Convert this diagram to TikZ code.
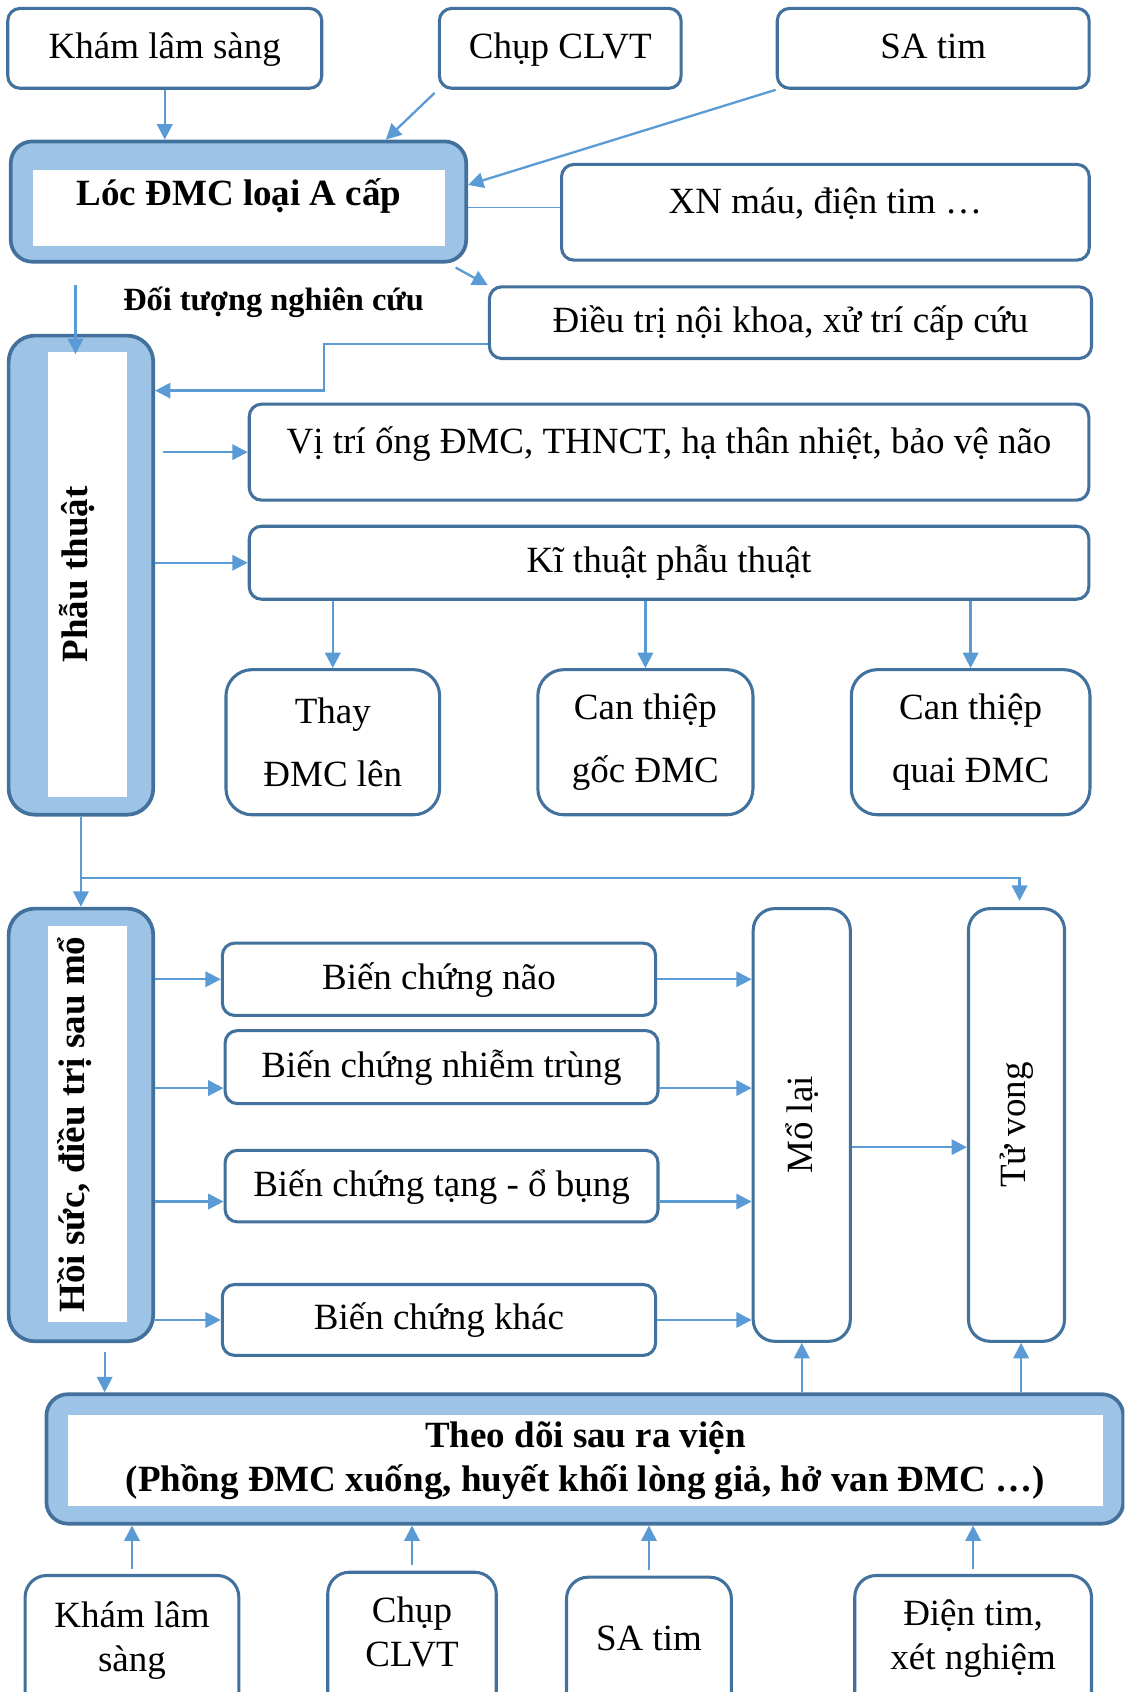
\documentclass[tikz,border=0pt]{standalone}
\usepackage{fontspec}
\setmainfont{Liberation Serif}
\usepackage{graphicx}
\usetikzlibrary{arrows.meta,calc}
\definecolor{boxline}{RGB}{65,113,156}
\definecolor{boxfill}{RGB}{157,195,230}
\definecolor{arrowblue}{RGB}{91,155,213}
\def\px{0.35pt}

\begin{document}
\fontsize{12}{14.4}\selectfont
\begin{tikzpicture}[x=\px, y=-\px, >={Triangle[length=5pt,width=5pt]},
  box/.style={draw=boxline, line width=1pt, rounded corners=4pt, fill=white, inner sep=0pt},
  bigbox/.style={draw=boxline, line width=1.2pt, rounded corners=7pt, fill=boxfill, inner sep=0pt},
  whitebox/.style={fill=white, inner sep=0pt, font=\bfseries},
  wh/.style 2 args={minimum width=#1*\px, minimum height=#2*\px},
  oneline/.style={text height=9pt, text depth=#1}, oneline/.default=2.5pt,
  twoline/.style={align=center, text height=23.4pt, text depth=#1},
  arr/.style={->, draw=arrowblue, line width=0.75pt},
  link/.style={draw=arrowblue, line width=0.5pt}]
  \useasboundingbox (0,0) rectangle (1042,1568);
  \clip (0,0) rectangle (1042,1568);

  % inputs on top
  \node[box, oneline, wh={291}{74}] (kham) at (152.7,44.8) {Khám lâm sàng};
  \node[box, oneline, wh={224}{74}] (chup) at (519.2,44.8) {Chụp CLVT};
  \node[box, oneline, wh={289}{74}] (satim) at (864.8,44.8) {SA tim};

  \node[bigbox, wh={422}{111.5}] (loc) at (221,186.8) {};
  \node[whitebox, oneline=11pt, wh={381}{70}] (loctext) at (221.5,193) {Lóc ĐMC loại A cấp};

  \node[box, oneline=8pt, wh={489}{88.7}] (xn) at (764.9,196.7) {XN máu, điện tim …};
  \node[box, oneline, wh={558}{66.4}] (dieutri) at (732.5,299) {Điều trị nội khoa, xử trí cấp cứu};
  \node[font=\bfseries\fontsize{10.5}{12}\selectfont] (doituong) at (253.5,280) {Đối tượng nghiên cứu};

  % surgery
  \node[bigbox, rounded corners=8.5pt, wh={134}{444}] (phau) at (75,533) {};
  \node[whitebox, rotate=90, oneline=9pt, wh={412.6}{73}] (phautext) at (81,532.3) {Phẫu thuật};

  \node[box, oneline=8pt, wh={778}{89}] (vitri) at (620,419) {Vị trí ống ĐMC, THNCT, hạ thân nhiệt, bảo vệ não};
  \node[box, oneline, wh={778}{67.7}] (kithuat) at (620,521.5) {Kĩ thuật phẫu thuật};

  \node[box, rounded corners=8.5pt, align=center, wh={198}{134.5}] (thay) at (308.4,687.8) {Thay\\[6pt]ĐMC lên};
  \node[box, rounded corners=8.5pt, align=center, wh={199.4}{134.5}] (goc) at (598.1,687.8) {Can thiệp\\[6pt]gốc ĐMC};
  \node[box, rounded corners=8.5pt, align=center, wh={221.2}{134.5}] (quai) at (899.5,687.8) {Can thiệp\\[6pt]quai ĐMC};

  % after surgery
  \node[bigbox, rounded corners=8.5pt, wh={134}{401}] (hoisuc) at (75,1042.5) {};
  \node[whitebox, rotate=90, oneline=11pt, wh={367}{73}] (hoitext) at (81,1042) {Hồi sức, điều trị sau mổ};

  \node[box, oneline, wh={401.5}{67}] (bcnao) at (406.8,907.5) {Biến chứng não};
  \node[box, oneline, wh={401.2}{67.7}] (bcnhiem) at (409.2,988.9) {Biến chứng nhiễm trùng};
  \node[box, oneline, wh={401.2}{66.3}] (bctang) at (409.2,1099.2) {Biến chứng tạng - ổ bụng};
  \node[box, oneline, wh={401.5}{65.7}] (bckhac) at (406.8,1223.2) {Biến chứng khác};

  \node[box, rounded corners=7pt, wh={90}{401}] (molai) at (743,1042.5) {\rotatebox{90}{Mổ lại}};
  \node[box, rounded corners=7pt, wh={89}{401}] (tuvong) at (942,1042.5) {\rotatebox{90}{Tử vong}};

  % follow-up
  \node[bigbox, wh={998}{120}] (theo) at (542,1352) {};
  \node[whitebox, align=center, wh={959}{85}] (theotext) at (542.5,1353.5)
    {Theo dõi sau ra viện\\(Phồng ĐMC xuống, huyết khối lòng giả, hở van ĐMC …)};

  \node[box, rounded corners=7pt, twoline=6.6pt, wh={198}{130}] (kham2) at (122.3,1525) {Khám lâm\\sàng};
  \node[box, rounded corners=7pt, twoline=8.7pt, wh={156.2}{133}] (chup2) at (381.8,1523.5) {Chụp\\CLVT};
  \node[box, rounded corners=7pt, oneline=6.3pt, wh={152.8}{128.4}] (sa2) at (601.4,1525.8) {SA tim};
  \node[box, rounded corners=7pt, twoline=7.6pt, wh={219.4}{130}] (dien2) at (901.8,1525) {Điện tim,\\xét nghiệm};

  % connectors
  \coordinate (ltop) at (70,264);
  \coordinate (bend) at (300,362);
  \coordinate (split) at ($(phau.south)!0.68!(hoisuc.north)$);

  \draw[arr] (kham.south) -- (kham.south |- loc.north);
  \draw[arr, shorten <=1.5pt] (chup.south west) -- ([xshift=47.8pt]loc.north);
  \draw[arr] (satim.south west) -- ([yshift=5.4pt]loc.east);
  \draw[link] ([yshift=-1.9pt]loc.east) -- ([yshift=-1.9pt]loc.east -| xn.west);
  \draw[arr] ([shift={(-4pt,-1.3pt)}]loc.south east) -- (dieutri.north west);
  \draw[arr, shorten >=-6.6pt] (ltop) -- (ltop |- phau.north);
  \draw[arr] ([yshift=-7pt]dieutri.west) -| (bend) -- (bend -| phau.east);
  \draw[arr, shorten <=2.5pt] (phau.east |- vitri.west) -- (vitri.west);
  \draw[arr] (phau.east |- kithuat.west) -- (kithuat.west);
  \foreach \bc in {thay,goc,quai}
    \draw[arr] (\bc.north |- kithuat.south) -- (\bc.north);

  \draw[arr] (phau.south) -- (hoisuc.north);
  \draw[arr, shorten >=2pt] (split) -| ([xshift=1pt]tuvong.north);
  \foreach \bc/\dy in {bcnao/0pt, bcnhiem/-6.8pt, bctang/-5pt, bckhac/0pt} {
    \draw[arr] ([yshift=\dy]\bc.west -| hoisuc.east) -- ([yshift=\dy]\bc.west);
    \draw[arr] ([yshift=\dy]\bc.east) -- ([yshift=\dy]\bc.east -| molai.west);
  }
  \draw[arr] ([yshift=-7.2pt]molai.east) -- ([yshift=-7.2pt]molai.east -| tuvong.west);

  \draw[arr, shorten <=2.8pt] ([xshift=7.7pt]hoisuc.south) -- ([xshift=7.7pt]hoisuc.south |- theo.north);
  \draw[arr] (molai.south |- theo.north) -- (molai.south);
  \draw[arr] ([xshift=1.5pt]tuvong.south |- theo.north) -- ([xshift=1.5pt]tuvong.south);
  \foreach \bc in {kham2,chup2,sa2,dien2}
    \draw[arr, shorten <=1.7pt] (\bc.north) -- (\bc.north |- theo.south);
\end{tikzpicture}
\end{document}
